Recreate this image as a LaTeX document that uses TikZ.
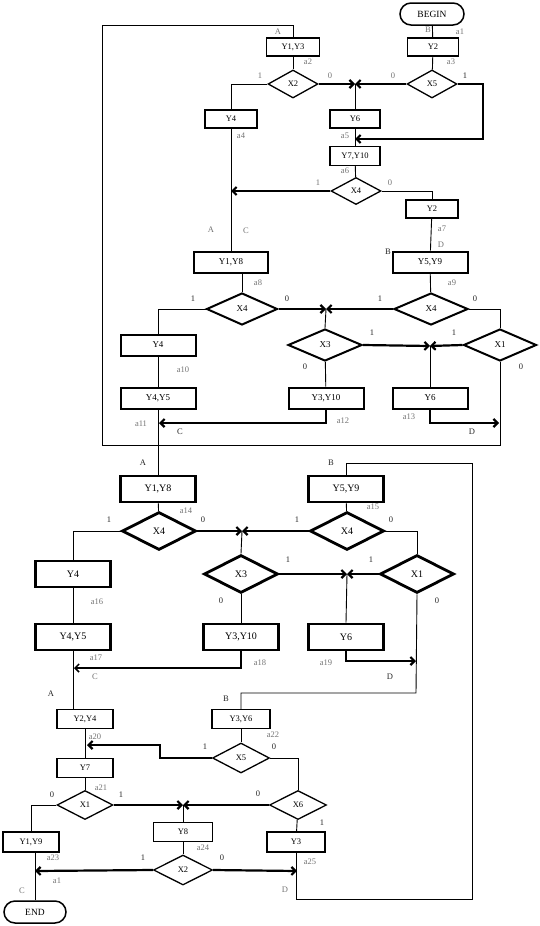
\documentclass[tikz,border=0pt]{standalone}
\usepackage{fontspec}
\setmainfont{Liberation Serif}
\usetikzlibrary{shapes.geometric,arrows.meta}

\begin{document}
\begin{tikzpicture}[x=1pt,y=-1pt,
  >={Straight Barb[length=4pt,width=8pt]},
  sz/.style 2 args={minimum width=#1,minimum height=#2},
  box/.style={draw,rectangle,inner sep=0pt,line width=1.3pt,font=\fontsize{8.5}{9}\selectfont},
  bbox/.style={box,line width=2pt,font=\fontsize{9}{10}\selectfont},
  cbox/.style={box,line width=2.8pt,font=\fontsize{10}{11}\selectfont},
  dia/.style={draw,diamond,inner sep=0pt,line width=1.3pt,font=\fontsize{8.5}{9}\selectfont},
  bdia/.style={dia,line width=2pt,font=\fontsize{9}{10}\selectfont},
  cdia/.style={dia,line width=2.8pt,font=\fontsize{10}{11}\selectfont},
  term/.style={draw,rectangle,rounded corners=11pt,inner sep=0pt,line width=1.5pt,font=\fontsize{9.5}{10}\selectfont},
  wire/.style={line width=0.9pt},
  flow/.style={line width=2.2pt,->},
  lbl/.style={inner sep=0pt,text=black!55,font=\fontsize{8.5}{9}\selectfont},
  lblk/.style={inner sep=0pt,text=black!85,font=\fontsize{8.5}{9}\selectfont}]
\useasboundingbox (0,0) rectangle (540,926);
% 第一部分
\node[term,sz={64pt}{22pt}] (begin) at (432,14) {BEGIN};
\node[box,sz={51pt}{18pt}] (y2a) at (433,47) {Y2};
\node[dia,sz={50pt}{28pt}] (x5a) at (432,84) {X5};
\node[box,sz={53pt}{18pt}] (y1y3) at (293,47) {Y1,Y3};
\node[dia,sz={50pt}{28pt}] (x2a) at (293,84) {X2};
\node[box,sz={52pt}{18pt}] (y4a) at (231,119) {Y4};
\node[box,sz={50pt}{18pt}] (y6a) at (355,119) {Y6};
\node[box,sz={50pt}{19pt}] (y7y10) at (355,156) {Y7,Y10};
\node[dia,sz={50pt}{27pt}] (x4a) at (356,191) {X4};
\node[box,sz={52pt}{18pt}] (y2b) at (432,209) {Y2};
\node[bbox,sz={74pt}{21pt}] (y1y8a) at (231,262) {Y1,Y8};
\node[bbox,sz={75pt}{21pt}] (y5y9a) at (430,262) {Y5,Y9};
\node[bdia,sz={71pt}{32pt}] (x4b) at (242,309) {X4};
\node[bdia,sz={74pt}{32pt}] (x4c) at (431,309) {X4};
\node[bdia,sz={74pt}{32pt}] (x3a) at (325,345) {X3};
\node[bdia,sz={73pt}{32pt}] (x1a) at (500,345) {X1};
\node[bbox,sz={75pt}{21pt}] (y4b) at (158,345) {Y4};
\node[bbox,sz={75pt}{21pt}] (y4y5a) at (158,398) {Y4,Y5};
\node[bbox,sz={75pt}{21pt}] (y3y10a) at (326,398) {Y3,Y10};
\node[bbox,sz={75pt}{21pt}] (y6b) at (430,398) {Y6};
% 第二部分
\node[cbox,sz={75pt}{26pt}] (y1y8b) at (158,489) {Y1,Y8};
\node[cdia,sz={74pt}{38pt}] (x4d) at (159,531) {X4};
\node[cbox,sz={75pt}{26pt}] (y4c) at (73,574) {Y4};
\node[cbox,sz={75pt}{26pt}] (y4y5b) at (73,637) {Y4,Y5};
\node[cbox,sz={75pt}{26pt}] (y5y9b) at (346,489) {Y5,Y9};
\node[cdia,sz={74pt}{38pt}] (x4e) at (347,531) {X4};
\node[cdia,sz={74pt}{38pt}] (x1b) at (417,574) {X1};
\node[cdia,sz={74pt}{38pt}] (x3b) at (241,574) {X3};
\node[cbox,sz={75pt}{26pt}] (y3y10b) at (241,637) {Y3,Y10};
\node[cbox,sz={75pt}{26pt}] (y6c) at (346,637) {Y6};
% 第三部分
\node[box,sz={56pt}{19pt}] (y2y4) at (85,719) {Y2,Y4};
\node[box,sz={56pt}{19pt}] (y7) at (85,768) {Y7};
\node[dia,sz={56pt}{29pt}] (x1c) at (85,805) {X1};
\node[box,sz={56pt}{20pt}] (y1y9) at (31,842) {Y1,Y9};
\node[term,sz={62pt}{22pt}] (end) at (35,912) {END};
\node[box,sz={58pt}{19pt}] (y3y6) at (241,719) {Y3,Y6};
\node[dia,sz={57pt}{30pt}] (x5b) at (241,758) {X5};
\node[dia,sz={57pt}{29pt}] (x6) at (298,805) {X6};
\node[box,sz={59pt}{19pt}] (y8) at (183,832) {Y8};
\node[dia,sz={59pt}{30pt}] (x2b) at (183,870) {X2};
\node[box,sz={58pt}{20pt}] (y3b) at (296,842) {Y3};
% 汇合点与拐点
\coordinate (m1) at (355,84);
\coordinate (m1b) at (355,139);
\coordinate (r5) at (483,139);
\coordinate (m2) at (326,309);
\coordinate (m3) at (430,346);
\coordinate (m4) at (242,531);
\coordinate (m5) at (347,574);
\coordinate (m6) at (183,805);
\coordinate (lp1) at (102,445);
\coordinate (lp2) at (102,25);
\coordinate (lp3) at (472,899);
\coordinate (lp4) at (472,463);
\coordinate (c1) at (159,423);
\coordinate (d1) at (499,423);
\coordinate (c2) at (74,668);
\coordinate (d2) at (416,661);
\coordinate (b2) at (416,693);
\coordinate (j1) at (160,745);
\coordinate (j2) at (87,745);
\coordinate (c3) at (35,871);
\coordinate (d3) at (297,871);
% 第一部分连线
\draw[wire] (begin) -- (y2a);
\draw[wire] (y2a) -- (x5a);
\draw[flow] (x5a.west) -- (m1);
\draw[flow] (x2a.east) -- (m1);
\draw[flow] (x5a.east) -| (r5) -- (m1b);
\draw[wire] (m1) -- (y6a.north);
\draw[wire] (y6a.south) -- (y7y10.north);
\draw[wire] (x1a.south) |- (lp1) -- (lp2) -| (y1y3.north);
\draw[wire] (y1y3) -- (x2a);
\draw[wire] (x2a.west) -| (y4a.north);
\draw[wire] (y4a.south) -- (y1y8a.north);
\draw[wire] (y7y10) -- (x4a);
\draw[flow] (x4a.west) -- (x4a.west -| y4a.south);
\draw[wire] (x4a.east) -| (y2b.north);
\draw[wire] (y2b) -- (y5y9a);
\draw[wire] (x4b.north) -- (x4b.north |- y1y8a.south);
\draw[wire] (y5y9a) -- (x4c);
\draw[flow] (x4b.east) -- (m2);
\draw[flow] (x4c.west) -- (m2);
\draw[wire] (x4b.west) -| (y4b.north);
\draw[wire] (x4c.east) -| (x1a.north);
\draw[wire] (m2) -- (x3a.north);
\draw[flow] (x3a.east) -- (m3);
\draw[flow] (x1a.west) -- (m3);
\draw[wire] (m3) -- (y6b.north);
\draw[wire] (x3a) -- (y3y10a);
\draw[wire] (y4b) -- (y4y5a);
\draw[wire] (y4y5a.south) -- (y1y8b.north);
\draw[flow] (y3y10a.south) |- (c1);
\draw[flow] (y6b.south) |- (d1);
% 第二部分连线
\draw[wire] (y1y8b) -- (x4d);
\draw[flow] (x4d.east) -- (m4);
\draw[flow] (x4e.west) -- (m4);
\draw[wire] (x4d.west) -| (y4c.north);
\draw[wire] (y4c) -- (y4y5b);
\draw[wire] (y4y5b.south) -- (y4y5b.south |- y2y4.north);
\draw[wire] (y3b.south) |- (lp3) -- (lp4) -| (y5y9b.north);
\draw[wire] (y5y9b) -- (x4e);
\draw[wire] (x4e.east) -| (x1b.north);
\draw[wire] (m4) -- (x3b.north);
\draw[flow] (x3b.east) -- (m5);
\draw[flow] (x1b.west) -- (m5);
\draw[wire] (m5) -- (y6c.north);
\draw[wire] (x3b) -- (y3y10b);
\draw[line width=1.5pt,->] (y3y10b.south) |- (c2);
\draw[flow] (y6c.south) |- (d2);
\draw[wire] (x1b.south) -- (b2) -| (y3y6.north);
% 第三部分连线
\draw[wire] (y2y4) -- (y7);
\draw[flow] (x5b.west) -| (j1) -- (j2);
\draw[wire] (y7) -- (x1c);
\draw[flow] (x1c.east) -- (m6);
\draw[flow] (x6.west) -- (m6);
\draw[wire] (x1c.west) -| (y1y9.north);
\draw[wire] (end.north) -- (end.north |- y1y9.south);
\draw[wire] (y3y6) -- (x5b);
\draw[wire] (x5b.east) -| (x6.north);
\draw[wire] (m6) -- (y8.north);
\draw[wire] (y8) -- (x2b);
\draw[wire] (x6) -- (y3b);
\draw[flow] (x2b.west) -- (c3);
\draw[flow] (x2b.east) -- (d3);
% 标注
\foreach \t/\px/\py [count=\i] in {B/428/30, a1/460/32, A/278/32, a2/308/62, a3/451/62,
  1/260/76, 0/330/76, 0/393/76, a4/241/136, a5/345/136, a6/345/171, 1/318/183, 0/390/183,
  a7/442/229, D/441/245, A/211/230, C/246/231, a8/258/283, a9/452/283, a10/183/370,
  a11/141/424, a12/343/421, a13/409/417, a14/186/511, a15/373/507, a16/97/602,
  a17/96/658, a18/260/663, a19/326/663, C/95/677, a20/95/737, a22/273/735, a21/101/788,
  a24/203/848, a23/53/858, a25/310/862, a1/57/881, C/22/891, D/285/890}
  \node[lbl] (g\i) at (\px,\py) {\t};
\foreach \t/\px/\py [count=\i] in {1/465/76, B/388/252, 1/193/299, 0/287/299, 1/380/299,
  0/475/299, 1/372/333, 1/454/333, 0/305/367, 0/521/367, C/180/432, D/472/432, A/143/463,
  B/331/463, 1/109/520, 0/203/520, 1/297/520, 0/391/520, 1/288/560, 1/371/560, 0/221/601,
  0/437/601, D/390/677, A/51/694, B/226/699, 1/205/747, 0/274/747, 0/52/795, 1/121/795,
  0/258/794, 1/322/823, 1/143/858, 0/222/858}
  \node[lblk] (k\i) at (\px,\py) {\t};
\end{tikzpicture}
\end{document}
